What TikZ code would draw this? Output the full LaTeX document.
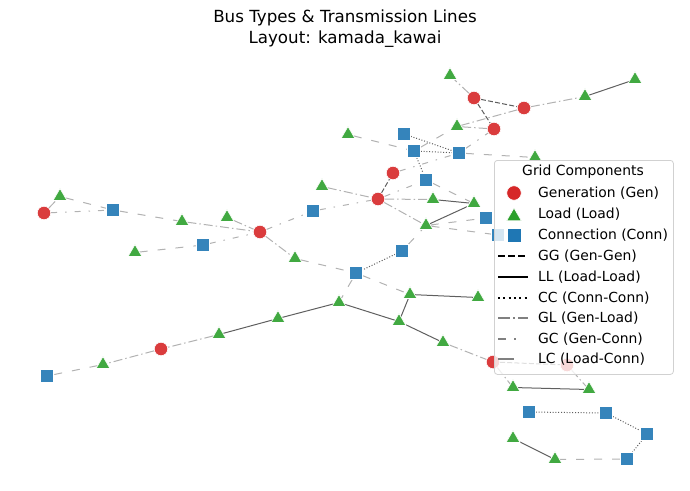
\documentclass[tikz,border=0pt]{standalone}
\usepackage{fontspec}
\setmainfont{DejaVu Sans}
\usetikzlibrary{shapes.geometric}
\definecolor{genRouge}{RGB}{214,39,40}
\definecolor{chargeVert}{RGB}{44,160,44}
\definecolor{connBleu}{RGB}{31,119,180}
\definecolor{lienFonce}{RGB}{95,95,95}
\definecolor{lienClair}{RGB}{178,178,178}
\definecolor{legGris}{RGB}{128,128,128}
\pgfdeclarelayer{fond}
\pgfsetlayers{fond,main}
\tikzset{
  busGen/.style={circle, fill=genRouge, draw=white, line width=0.6pt, fill opacity=0.9, inner sep=0pt, minimum size=13.5pt},
  busLoad/.style={regular polygon, regular polygon sides=3, fill=chargeVert, draw=white, line width=0.6pt, fill opacity=0.9, inner sep=0pt, minimum size=16pt, yshift=-1.5pt},
  busConn/.style={rectangle, fill=connBleu, draw=white, line width=0.6pt, fill opacity=0.9, inner sep=0pt, minimum size=13pt},
  lienGG/.style={lienFonce, line width=1pt, dash pattern=on 5pt off 2.2pt},
  lienLL/.style={lienFonce, line width=1pt},
  lienCC/.style={lienFonce, line width=1pt, dash pattern=on 1pt off 1.8pt},
  lienGL/.style={lienClair, line width=1pt, dash pattern=on 9pt off 3pt on 1.5pt off 3pt},
  lienGC/.style={lienClair, line width=1pt, dash pattern=on 6pt off 8pt on 1.5pt off 8pt},
  lienLC/.style={lienClair, line width=1pt, dash pattern=on 8pt off 10pt},
  legTexte/.style={anchor=west, inner sep=0pt, font=\fontsize{13.9}{16}\selectfont}
}

\begin{document}
\begin{tikzpicture}[x=1pt, y=-1pt]
        % Cadre
        \useasboundingbox (0,0) rectangle (690,490);

        % Titre
        \node[align=center, font=\fontsize{16.7}{21}\selectfont] (titre) at (345,29) {Bus Types \& Transmission Lines\\Layout: kamada\_kawai};

        % Bus de production (Gen)
        \node[busGen] (g1) at (44,213) {};
        \node[busGen] (g2) at (260,232) {};
        \node[busGen] (g3) at (378,199) {};
        \node[busGen] (g4) at (393,173) {};
        \node[busGen] (g5) at (474,98) {};
        \node[busGen] (g6) at (524,108) {};
        \node[busGen] (g7) at (494,129) {};
        \node[busGen] (g8) at (161,349) {};
        \node[busGen] (g9) at (493,362) {};
        \node[busGen] (g10) at (567,365) {};

        % Bus de charge (Load)
        \node[busLoad] (l1) at (60,195) {};
        \node[busLoad] (l2) at (182,220) {};
        \node[busLoad] (l3) at (227,216) {};
        \node[busLoad] (l4) at (135,251) {};
        \node[busLoad] (l5) at (295,257) {};
        \node[busLoad] (l6) at (322,185) {};
        \node[busLoad] (l7) at (348,133) {};
        \node[busLoad] (l8) at (450,74) {};
        \node[busLoad] (l9) at (457,125) {};
        \node[busLoad] (l10) at (585,95) {};
        \node[busLoad] (l11) at (635,78) {};
        \node[busLoad] (l12) at (535,156) {};
        \node[busLoad] (l13) at (433,198) {};
        \node[busLoad] (l14) at (474,202) {};
        \node[busLoad] (l15) at (426,224) {};
        \node[busLoad] (l16) at (410,293) {};
        \node[busLoad] (l17) at (478,296) {};
        \node[busLoad] (l18) at (339,301) {};
        \node[busLoad] (l19) at (399,320) {};
        \node[busLoad] (l20) at (443,341) {};
        \node[busLoad] (l21) at (278,317) {};
        \node[busLoad] (l22) at (219,333) {};
        \node[busLoad] (l23) at (103,363) {};
        \node[busLoad] (l24) at (513,386) {};
        \node[busLoad] (l25) at (589,388) {};
        \node[busLoad] (l26) at (513,437) {};
        \node[busLoad] (l27) at (555,458) {};

        % Bus de connexion (Conn)
        \node[busConn] (c1) at (113,210) {};
        \node[busConn] (c2) at (203,245) {};
        \node[busConn] (c3) at (313,211) {};
        \node[busConn] (c4) at (404,134) {};
        \node[busConn] (c5) at (414,151) {};
        \node[busConn] (c6) at (459,153) {};
        \node[busConn] (c7) at (426,180) {};
        \node[busConn] (c8) at (486,218) {};
        \node[busConn] (c9) at (498,235) {};
        \node[busConn] (c10) at (402,251) {};
        \node[busConn] (c11) at (356,273) {};
        \node[busConn] (c12) at (47,376) {};
        \node[busConn] (c13) at (529,412) {};
        \node[busConn] (c14) at (606,413) {};
        \node[busConn] (c15) at (647,434) {};
        \node[busConn] (c16) at (627,459) {};

        % Lignes (sous les bus)
        \begin{pgfonlayer}{fond}
        \draw[lienGL] (g1) -- (l1) (l2) -- (g2) (l3) -- (g2) (g2) -- (l5) (l6) -- (g3)
              (g3) -- (l13) (g3) -- (l15) (g5) -- (l8) (g6) -- (l9) (l9) -- (g7)
              (g6) -- (l10) (l22) -- (g8) (g8) -- (l23) (l20) -- (g9) (g9) -- (l24) (g10) -- (l25);
        \draw[lienGC] (g1) -- (c1) (c2) -- (g2) (g2) -- (c3) (c3) -- (g3) (g3) -- (c7)
              (g4) -- (c6) (c6) -- (g7);
        \draw[lienLC] (l1) -- (c1) (c1) -- (l2) (l4) -- (c2) (l7) -- (c5) (c5) -- (l9)
              (c6) -- (l12) (c7) -- (l14) (l15) -- (c8) (l15) -- (c9) (l5) -- (c11)
              (c10) -- (l15) (c11) -- (l16) (c11) -- (l18) (l23) -- (c12) (c16) -- (l27);
        \draw[lienGG] (g3) -- (g4) (g5) -- (g6) (g5) -- (g7) (g9) -- (g10);
        \draw[lienLL] (l10) -- (l11) (l13) -- (l14) (l15) -- (l14) (l18) -- (l21)
              (l21) -- (l22) (l18) -- (l19) (l19) -- (l16) (l16) -- (l17) (l19) -- (l20)
              (l24) -- (l25) (l26) -- (l27);
        \draw[lienCC] (c4) -- (c6) (c5) -- (c6) (c5) -- (c7) (c10) -- (c11)
              (c13) -- (c14) (c14) -- (c15) (c15) -- (c16);
        \end{pgfonlayer}

        % Legende
        \node[draw=black!18, fill=white, fill opacity=0.8, rounded corners=3pt, line width=0.8pt,
              minimum width=179pt, minimum height=214pt, anchor=north west] (legende) at (494,160) {};
        \node[font=\fontsize{13.9}{16}\selectfont] (legTitre) at (583,172) {Grid Components};
        \node[busGen, fill opacity=1, minimum size=14.5pt] (legGen) at (514,193) {};
        \node[busLoad, fill opacity=1, minimum size=17pt] (legLoad) at (514,215) {};
        \node[busConn, fill opacity=1, minimum size=14pt] (legConn) at (514,235) {};
        \node[legTexte] (txtGen) at (538,193) {Generation (Gen)};
        \node[legTexte] (txtLoad) at (538,214) {Load (Load)};
        \node[legTexte] (txtConn) at (538,235) {Connection (Conn)};
        \coordinate (gga) at (498,256); \coordinate (ggb) at (528,256);
        \coordinate (lla) at (498,277); \coordinate (llb) at (528,277);
        \coordinate (cca) at (498,298); \coordinate (ccb) at (528,298);
        \coordinate (gla) at (498,318); \coordinate (glb) at (528,318);
        \coordinate (gca) at (498,339); \coordinate (gcb) at (528,339);
        \coordinate (lca) at (498,359); \coordinate (lcb) at (528,359);
        \draw[black, line width=2pt, dash pattern=on 7pt off 3pt] (gga) -- (ggb);
        \draw[black, line width=2pt] (lla) -- (llb);
        \draw[black, line width=2pt, dash pattern=on 2pt off 3.3pt] (cca) -- (ccb);
        \draw[legGris, line width=2pt, dash pattern=on 12pt off 3pt on 2pt off 3pt] (gla) -- (glb);
        \draw[legGris, line width=2pt, dash pattern=on 8pt off 8pt on 2pt off 20pt] (gca) -- (gcb);
        \draw[legGris, line width=2pt, dash pattern=on 16pt off 20pt] (lca) -- (lcb);
        \node[legTexte] (txtGG) at (538,256) {GG (Gen-Gen)};
        \node[legTexte] (txtLL) at (538,277) {LL (Load-Load)};
        \node[legTexte] (txtCC) at (538,298) {CC (Conn-Conn)};
        \node[legTexte] (txtGL) at (538,318) {GL (Gen-Load)};
        \node[legTexte] (txtGC) at (538,339) {GC (Gen-Conn)};
        \node[legTexte] (txtLC) at (538,359) {LC (Load-Conn)};
    \end{tikzpicture}
\end{document}
